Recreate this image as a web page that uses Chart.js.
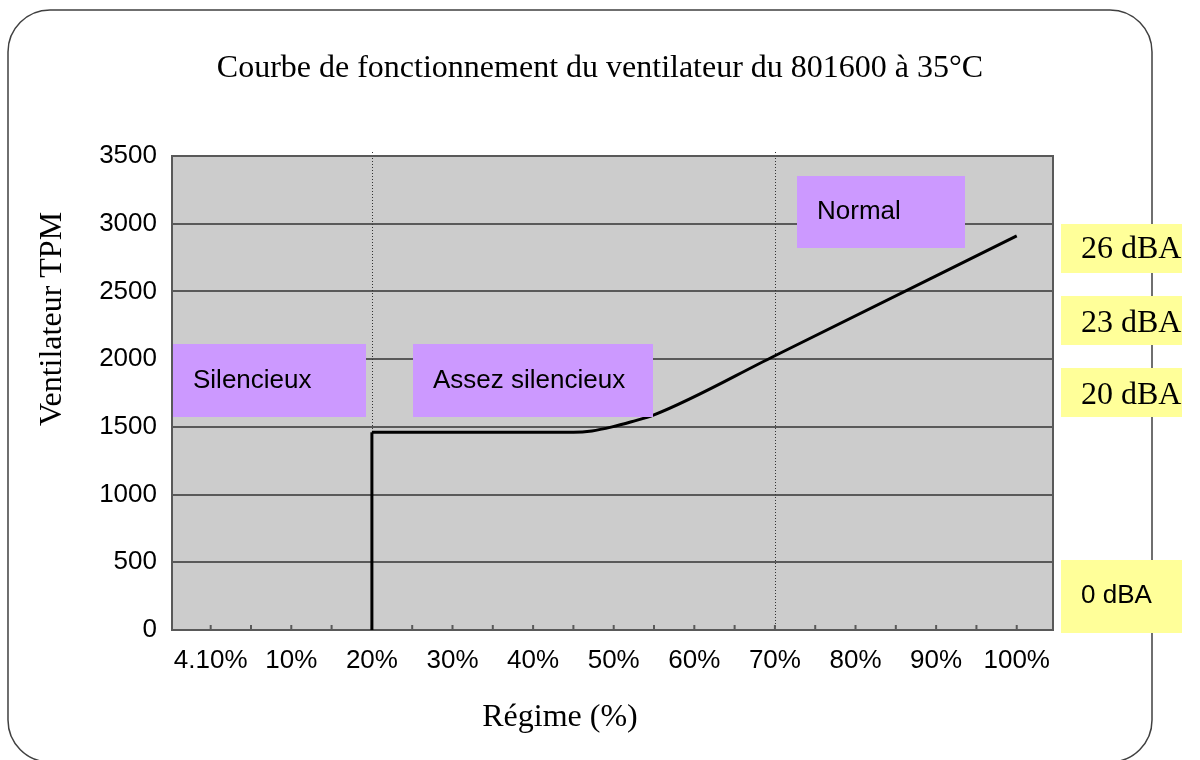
<!DOCTYPE html>
<html>
<head>
<meta charset="utf-8">
<script src="https://cdn.jsdelivr.net/npm/chart.js@4.4.1/dist/chart.umd.min.js"></script>
<style>
  html, body { margin: 0; padding: 0; background: #fff; }
  #wrap { width: 1200px; height: 760px; }
</style>
</head>
<body>
<div id="wrap"><canvas id="fanChart" width="1200" height="760"></canvas></div>
<script>
// x axis: regime (%) tick positions and their labels
var xTickValues = [0, 10, 20, 30, 40, 50, 60, 70, 80, 90, 100];
var xTickLabels = ['4.10%', '10%', '20%', '30%', '40%', '50%', '60%', '70%', '80%', '90%', '100%'];
var xMinorTicks = [0, 5, 10, 15, 20, 25, 30, 35, 40, 45, 50, 55, 60, 65, 70, 75, 80, 85, 90, 95, 100];

// fan speed (TPM) curve
var riseX = [20, 20];
var riseY = [0, 1460];
var curveX = [20, 45, 47.3, 49.8, 52.2, 55, 70, 100];
var curveY = [1460, 1460, 1470, 1500, 1538, 1588, 2025, 2910];

// zone boundaries (dotted lines) and labels
var zoneEdges = [20, 70];
var zoneLabels = ['Silencieux', 'Assez silencieux', 'Normal'];
var noiseLabels = ['26 dBA', '23 dBA', '20 dBA', '0 dBA'];

var SANS = '"Liberation Sans", Arial, sans-serif';
var SERIF = '"Liberation Serif", "Times New Roman", serif';

function toPoints(xs, ys) {
  return xs.map(function (x, i) { return { x: x, y: ys[i] }; });
}

// frame, plot background, zones, boxes and titles
var decorPlugin = {
  id: 'decor',
  beforeDraw: function (chart) {
    var c = chart.ctx, a = chart.chartArea;
    c.save();
    c.fillStyle = '#ffffff';
    c.fillRect(0, 0, chart.width, chart.height);
    // rounded outer frame
    c.strokeStyle = '#404040';
    c.lineWidth = 1.5;
    c.beginPath();
    c.roundRect(8, 10, 1144, 752, 42);
    c.stroke();
    // plot area
    c.fillStyle = '#cccccc';
    c.fillRect(a.left, a.top, a.right - a.left, a.bottom - a.top);
    c.restore();
  },
  beforeDatasetsDraw: function (chart) {
    var c = chart.ctx, a = chart.chartArea, xs = chart.scales.x;
    c.save();
    // dotted zone separators
    c.strokeStyle = '#333333';
    c.lineWidth = 1;
    c.setLineDash([1, 2]);
    zoneEdges.forEach(function (v) {
      var px = Math.round(xs.getPixelForValue(v)) + 0.5;
      c.beginPath();
      c.moveTo(px, a.top - 4);
      c.lineTo(px, a.bottom);
      c.stroke();
    });
    c.setLineDash([]);
    // plot border
    c.strokeStyle = '#595959';
    c.lineWidth = 2;
    c.strokeRect(a.left, a.top, a.right - a.left, a.bottom - a.top);
    // inward minor ticks on the x axis
    xMinorTicks.forEach(function (v) {
      var px = xs.getPixelForValue(v);
      c.beginPath();
      c.moveTo(px, a.bottom);
      c.lineTo(px, a.bottom - 5);
      c.stroke();
    });
    c.restore();
  },
  afterDatasetsDraw: function (chart) {
    var c = chart.ctx;
    c.save();
    c.textBaseline = 'alphabetic';
    c.textAlign = 'left';

    // purple zone boxes
    var zoneBoxes = [[173, 344, 193, 73], [413, 344, 240, 73], [797, 176, 168, 72]];
    var zoneText = [[193, 388], [433, 388], [817, 219]];
    c.font = '26px ' + SANS;
    zoneBoxes.forEach(function (b, i) {
      c.fillStyle = '#cc99ff';
      c.fillRect(b[0], b[1], b[2], b[3]);
      c.fillStyle = '#000000';
      c.fillText(zoneLabels[i], zoneText[i][0], zoneText[i][1]);
    });

    // yellow noise level boxes
    var noiseBoxes = [[1061, 224, 121, 49], [1061, 296, 121, 49], [1061, 368, 121, 49], [1061, 560, 121, 73]];
    var noiseBase = [258, 332, 404, 603];
    noiseBoxes.forEach(function (b, i) {
      c.fillStyle = '#ffff99';
      c.fillRect(b[0], b[1], b[2], b[3]);
      c.fillStyle = '#000000';
      c.font = (i < 3 ? '32px ' + SERIF : '26px ' + SANS);
      c.fillText(noiseLabels[i], 1081, noiseBase[i]);
    });

    // titles
    c.fillStyle = '#000000';
    c.font = '32px ' + SERIF;
    c.textAlign = 'center';
    c.fillText('Courbe de fonctionnement du ventilateur du 801600 à 35°C', 600, 77);
    c.fillText('Régime (%)', 560, 726);
    c.translate(61, 319);
    c.rotate(-Math.PI / 2);
    c.fillText('Ventilateur TPM', 0, 0);
    c.restore();
  }
};

var ctx = document.getElementById('fanChart').getContext('2d');

var fanChart = new Chart(ctx, {
  type: 'scatter',
  data: {
    datasets: [{
      data: toPoints(riseX, riseY),
      showLine: true,
      borderColor: '#000000',
      borderWidth: 3,
      pointRadius: 0,
      tension: 0,
      clip: false
    }, {
      data: toPoints(curveX, curveY),
      showLine: true,
      borderColor: '#000000',
      borderWidth: 3,
      pointRadius: 0,
      cubicInterpolationMode: 'monotone',
      clip: false
    }]
  },
  options: {
    responsive: false,
    animation: false,
    layout: { padding: { left: 92, right: 147, top: 156, bottom: 70 } },
    plugins: {
      legend: { display: false },
      tooltip: { enabled: false }
    },
    scales: {
      x: {
        type: 'linear',
        min: -4.8,
        max: 104.5,
        afterBuildTicks: function (scale) {
          scale.ticks = xTickValues.map(function (v) { return { value: v }; });
        },
        afterFit: function (scale) { scale.height = 60; },
        grid: { display: false, drawTicks: false },
        border: { display: false },
        ticks: {
          autoSkip: false,
          maxRotation: 0,
          padding: 15,
          color: '#000000',
          font: { family: SANS, size: 26 },
          callback: function (v) { return xTickLabels[xTickValues.indexOf(v)]; }
        }
      },
      y: {
        min: 0,
        max: 3500,
        afterFit: function (scale) { scale.width = 80; },
        grid: { color: '#595959', lineWidth: 2, drawTicks: false },
        border: { display: false },
        ticks: {
          stepSize: 500,
          padding: 15,
          color: '#000000',
          font: { family: SANS, size: 26 },
          callback: function (v) { return String(v); }
        }
      }
    }
  },
  plugins: [decorPlugin]
});
</script>
</body>
</html>
